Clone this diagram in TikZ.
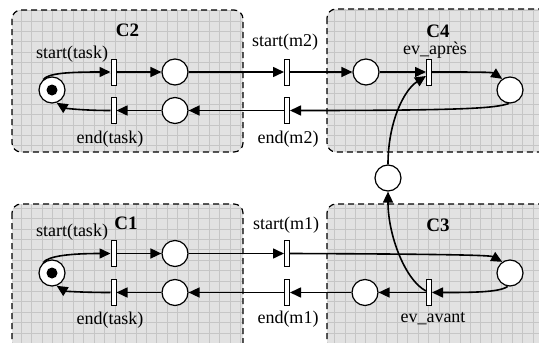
\documentclass[tikz,border=0pt]{standalone}
\usepackage{fontspec}
\setmainfont{Liberation Serif}
\usetikzlibrary{arrows.meta}
\definecolor{boxfill}{RGB}{226,226,226}
\definecolor{gridc}{RGB}{198,198,198}
\tikzset{
  plc/.style={circle,draw,fill=white,line width=1.2pt,minimum size=26pt,inner sep=0pt},
  trn/.style={rectangle,draw,fill=white,line width=1pt,minimum width=5pt,minimum height=26pt,inner sep=0pt},
  tok/.style={circle,fill=black,minimum size=11pt,inner sep=0pt},
  arc/.style={line width=1.6pt,-{Triangle[length=11pt,width=10pt]}},
  lbl/.style={font=\fontsize{18}{20}\selectfont,inner sep=0pt},
  clbl/.style={font=\fontsize{19}{21}\selectfont\bfseries,inner sep=0pt},
  boxborder/.style={dash pattern=on 6pt off 4pt,line width=1.2pt},
  gridline/.style={gridc,line width=0.6pt}
}
\newcommand{\compbox}[4]{%
  \fill[boxfill,rounded corners=9pt] (#1,#2) rectangle (#3,#4);
  \begin{scope}
    \clip[rounded corners=9pt] (#1,#2) rectangle (#3,#4);
    \foreach \gx in {0,...,52} {\draw[gridline] (\gx*10.45,0) -- (\gx*10.45,360);}
    \foreach \gy in {0,...,34} {\draw[gridline] (0,\gy*10.4) -- (560,\gy*10.4);}
  \end{scope}
  \draw[boxborder,rounded corners=9pt] (#1,#2) rectangle (#3,#4);
}
\begin{document}
\begin{tikzpicture}[x=1pt,y=-1pt]
\useasboundingbox (0,0) rectangle (539,343);
\clip (0,0) rectangle (539,343);
\fill[white] (0,0) rectangle (539,343);
% component boxes
\compbox{12}{10}{243}{152}
\compbox{327}{9}{548}{152}
\compbox{12}{204}{243}{352}
\compbox{327}{204}{548}{352}
% box labels
\node[clbl] (c2) at (127.5,30.5) {C2};
\node[clbl] (c4) at (438,31) {C4};
\node[clbl] (c1) at (126,223.5) {C1};
\node[clbl] (c3) at (438,225) {C3};
% upper part (C2, C4)
\node[plc] (m2) at (52,90) {};
\node[tok] (k2) at (52,90) {};
\node[trn] (ts2) at (113.5,72) {};
\node[plc] (p2a) at (175,72) {};
\node[trn] (te2) at (113.5,110.5) {};
\node[plc] (p2b) at (175,110.5) {};
\node[trn] (tsm2) at (287,72) {};
\node[trn] (tem2) at (287,110.5) {};
\node[plc] (p4a) at (366,72) {};
\node[trn] (tap) at (429,72) {};
\node[plc] (p4r) at (510,90) {};
\node[plc] (pmid) at (388,178) {};
% lower part (C1, C3)
\node[plc] (m1) at (52,273) {};
\node[tok] (k1) at (52,273) {};
\node[trn] (ts1) at (113.5,253.5) {};
\node[plc] (p1a) at (175,253.5) {};
\node[trn] (te1) at (113.5,292.5) {};
\node[plc] (p1b) at (175,292.5) {};
\node[trn] (tsm1) at (287,253.5) {};
\node[trn] (tem1) at (287,292.5) {};
\node[plc] (p3b) at (365,292.5) {};
\node[trn] (tav) at (429,292.5) {};
\node[plc] (p3r) at (510,273) {};
% labels
\node[lbl] (l1) at (72,54.5) {start(task)};
\node[lbl] (l2) at (110,139.5) {end(task)};
\node[lbl] (l3) at (285,42) {start(m2)};
\node[lbl] (l4) at (288,139) {end(m2)};
\node[lbl] (l5) at (435,50) {ev\_après};
\node[lbl] (l6) at (72,232) {start(task)};
\node[lbl] (l7) at (110,320.5) {end(task)};
\node[lbl] (l8) at (286,225) {start(m1)};
\node[lbl] (l9) at (288,319) {end(m1)};
\node[lbl] (l10) at (433,319) {ev\_avant};
% arcs upper
\draw[arc] (m2.130) .. controls (48,73) and (70,72) .. (ts2.west);
\draw[arc] (ts2) -- (p2a);
\draw[arc] (p2a) -- (tsm2);
\draw[arc] (tsm2) -- (p4a);
\draw[arc] (p4a) -- (tap);
\draw[arc] (tap.east) .. controls (470,72) and (492,72) .. (p4r.125);
\draw[arc] (p4r.-95) .. controls (495,108) and (470,110.5) .. (tem2.east);
\draw[arc] (tem2) -- (p2b);
\draw[arc] (p2b) -- (te2);
\draw[arc] (te2.west) .. controls (80,110.5) and (65,108) .. (m2.-70);
\draw[arc] (pmid.north) .. controls (388,122) and (404,90) .. (tap.west |- 0,76);
% arcs lower
\draw[arc] (m1.130) .. controls (48,256) and (70,253.5) .. (ts1.west);
\draw[arc] (ts1) -- (p1a);
\draw[arc] (p1a) -- (tsm1);
\draw[arc] (tsm1.east) .. controls (430,254) and (490,255) .. (p3r.125);
\draw[arc] (p3r.-100) .. controls (500,292.5) and (470,292.5) .. (tav.east);
\draw[arc] (tav) -- (p3b);
\draw[arc] (p3b) -- (tem1);
\draw[arc] (tem1) -- (p1b);
\draw[arc] (p1b) -- (te1);
\draw[arc] (te1.west) .. controls (80,292.5) and (65,291) .. (m1.-70);
\draw[arc] (tav.west |- 0,291) .. controls (405,280) and (388,235) .. (pmid.south);
\end{tikzpicture}
\end{document}
